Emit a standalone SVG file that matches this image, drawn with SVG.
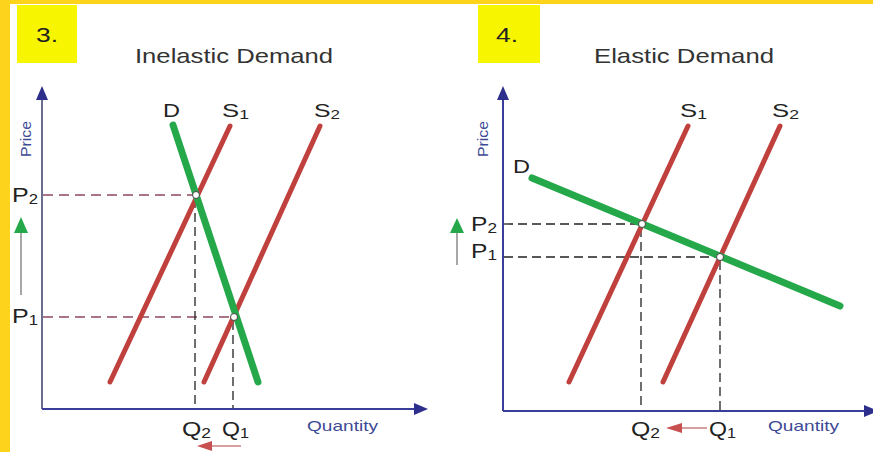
<svg xmlns="http://www.w3.org/2000/svg" width="873" height="452" viewBox="0 0 873 452">
<defs>
<style>
.lbl{font-family:"Liberation Sans",Arial,sans-serif;fill:#222;}
.ax{font-family:"Liberation Sans",Arial,sans-serif;fill:#3d4a96;font-size:15px;}
.num{font-family:"Liberation Sans",Arial,sans-serif;fill:#222;font-size:20px;}
.title{font-family:"Liberation Sans",Arial,sans-serif;fill:#333;font-size:21px;}
.demand{stroke:#25a84a;stroke-width:7;stroke-linecap:round;fill:none;}
.supply{stroke:#c0403d;stroke-width:5;stroke-linecap:round;fill:none;}
.dashk{stroke:#222;stroke-width:1.3;stroke-dasharray:9,5;fill:none;}
.dashm{stroke:#8a4a5a;stroke-width:1.3;stroke-dasharray:10,6;fill:none;}
.pt{fill:#fff;stroke:#444;stroke-width:1;}
.yax{stroke:#6a6e8e;stroke-width:2;}
.xax{stroke:#3a3e9a;stroke-width:2;}
</style>
</defs>
<rect x="0" y="0" width="873" height="452" fill="#fff"/>
<rect x="0" y="0" width="873" height="4" fill="#fdd31b"/>
<rect x="0" y="0" width="10" height="452" fill="#fdd31b"/>

<g id="panel3">
<rect x="17" y="5" width="60" height="58" fill="#f8f500"/>
<text class="num" x="36" y="42" textLength="22" lengthAdjust="spacingAndGlyphs">3.</text>
<text class="title" x="135" y="63" textLength="198" lengthAdjust="spacingAndGlyphs">Inelastic Demand</text>
</g>
<g id="panel4">
<rect x="478" y="5" width="62" height="58" fill="#f8f500"/>
<text class="num" x="496" y="42" textLength="22" lengthAdjust="spacingAndGlyphs">4.</text>
<text class="title" x="594" y="63" textLength="180" lengthAdjust="spacingAndGlyphs">Elastic Demand</text>
</g>

<g id="connectors">
<!-- left axes -->
<line class="yax" x1="42" y1="409" x2="42" y2="98"/>
<path d="M36,100 L42,86 L48,100 z" fill="#2e2e8c"/>
<line class="xax" x1="42" y1="409" x2="416" y2="409"/>
<path d="M414,403 L428,409 L414,415 z" fill="#2e2e8c"/>
<!-- right axes -->
<line class="xax" x1="503" y1="411" x2="503" y2="98"/>
<path d="M497,100 L503,86 L509,100 z" fill="#2e2e8c"/>
<line class="xax" x1="503" y1="411" x2="866" y2="411"/>
<path d="M864,405 L878,411 L864,417 z" fill="#2e2e8c"/>

<!-- left dashed -->
<line class="dashm" x1="43" y1="195" x2="195" y2="195"/>
<line class="dashm" x1="43" y1="317" x2="233" y2="317"/>
<line class="dashk" x1="195" y1="199" x2="195" y2="408"/>
<line class="dashk" x1="233" y1="321" x2="233" y2="408"/>
<!-- right dashed -->
<line class="dashk" x1="504" y1="224" x2="641" y2="224"/>
<line class="dashk" x1="504" y1="257" x2="720" y2="257"/>
<line class="dashk" x1="641" y1="228" x2="641" y2="410"/>
<line class="dashk" x1="720" y1="261" x2="720" y2="410"/>

<!-- price change arrows -->
<line x1="21" y1="232" x2="21" y2="295" stroke="#8a8a8a" stroke-width="1.5"/>
<path d="M14,233 L21,217 L28,233 z" fill="#25a84a"/>
<line x1="457" y1="232" x2="457" y2="265" stroke="#8a8a8a" stroke-width="1.5"/>
<path d="M450,233 L457,218 L464,233 z" fill="#25a84a"/>
<!-- quantity change arrows -->
<line x1="210" y1="446" x2="241" y2="446" stroke="#c88080" stroke-width="1.5"/>
<path d="M212,441 L197,446 L212,451 z" fill="#c85050"/>
<line x1="680" y1="428" x2="707" y2="428" stroke="#c88080" stroke-width="1.5"/>
<path d="M682,423 L666,428 L682,433 z" fill="#c85050"/>
</g>

<g id="curves3">
<line class="supply" x1="230" y1="126" x2="110" y2="382"/>
<line class="supply" x1="320" y1="126" x2="204" y2="382"/>
<line class="demand" x1="173" y1="125" x2="258" y2="382"/>
<circle class="pt" cx="196" cy="195" r="3.5"/>
<circle class="pt" cx="234" cy="317" r="3.5"/>
</g>
<g id="curves4">
<line class="supply" x1="688" y1="126" x2="569" y2="382"/>
<line class="supply" x1="780" y1="126" x2="663" y2="382"/>
<line class="demand" x1="532" y1="178" x2="840" y2="306"/>
<circle class="pt" cx="642" cy="224" r="3.5"/>
<circle class="pt" cx="720" cy="257" r="3.5"/>
</g>

<g id="labels3">
<text class="lbl" x="163" y="117" font-size="19" textLength="17" lengthAdjust="spacingAndGlyphs">D</text>
<text class="lbl" x="222" y="117" font-size="19" textLength="27" lengthAdjust="spacingAndGlyphs">S<tspan font-size="13" dy="2">1</tspan></text>
<text class="lbl" x="314" y="117" font-size="19" textLength="26" lengthAdjust="spacingAndGlyphs">S<tspan font-size="13" dy="2">2</tspan></text>
<text class="lbl" x="12" y="202" font-size="21" textLength="26" lengthAdjust="spacingAndGlyphs">P<tspan font-size="14" dy="2">2</tspan></text>
<text class="lbl" x="12" y="323" font-size="21" textLength="26" lengthAdjust="spacingAndGlyphs">P<tspan font-size="14" dy="2">1</tspan></text>
<text class="lbl" x="182" y="436" font-size="20" textLength="29" lengthAdjust="spacingAndGlyphs">Q<tspan font-size="14" dy="2">2</tspan></text>
<text class="lbl" x="222" y="436" font-size="20" textLength="27" lengthAdjust="spacingAndGlyphs">Q<tspan font-size="14" dy="2">1</tspan></text>
<text class="ax" x="307" y="431" textLength="71" lengthAdjust="spacingAndGlyphs">Quantity</text>
<text class="ax" transform="translate(31,157) rotate(-90)" textLength="36" lengthAdjust="spacingAndGlyphs">Price</text>
</g>
<g id="labels4">
<text class="lbl" x="513" y="173" font-size="19" textLength="17" lengthAdjust="spacingAndGlyphs">D</text>
<text class="lbl" x="680" y="117" font-size="19" textLength="27" lengthAdjust="spacingAndGlyphs">S<tspan font-size="13" dy="2">1</tspan></text>
<text class="lbl" x="772" y="117" font-size="19" textLength="27" lengthAdjust="spacingAndGlyphs">S<tspan font-size="13" dy="2">2</tspan></text>
<text class="lbl" x="471" y="231" font-size="20" textLength="26" lengthAdjust="spacingAndGlyphs">P<tspan font-size="14" dy="2">2</tspan></text>
<text class="lbl" x="471" y="258" font-size="20" textLength="26" lengthAdjust="spacingAndGlyphs">P<tspan font-size="14" dy="2">1</tspan></text>
<text class="lbl" x="631" y="436" font-size="20" textLength="29" lengthAdjust="spacingAndGlyphs">Q<tspan font-size="14" dy="2">2</tspan></text>
<text class="lbl" x="709" y="436" font-size="20" textLength="27" lengthAdjust="spacingAndGlyphs">Q<tspan font-size="14" dy="2">1</tspan></text>
<text class="ax" x="768" y="431" textLength="71" lengthAdjust="spacingAndGlyphs">Quantity</text>
<text class="ax" transform="translate(488,157) rotate(-90)" textLength="36" lengthAdjust="spacingAndGlyphs">Price</text>
</g>
</svg>
